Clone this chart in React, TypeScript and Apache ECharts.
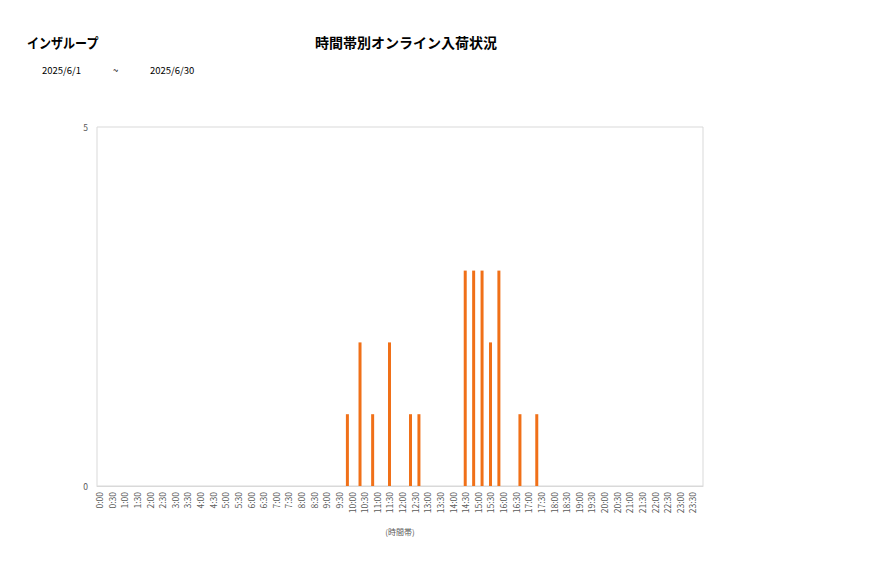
import { useEffect, useRef } from "react";
import * as echarts from "echarts";

// 10分刻みの時間帯 (0:00 〜 23:50)
const hours = Array.from({ length: 24 }, (_, h) => h);
const minutes = ["00", "10", "20", "30", "40", "50"];
const categories = hours.flatMap((h) => minutes.map((m) => `${h}:${m}`));

// 入荷のあった時間帯と件数
const slotTimes = [
  "9:50", "10:20", "10:50", "11:30", "12:20", "12:40",
  "14:30", "14:50", "15:10", "15:30", "15:50", "16:40", "17:20",
];
const slotCounts = [1, 2, 1, 2, 1, 1, 3, 3, 3, 2, 3, 1, 1];

const yTicks = [0, 5];

const companyName = "インザループ";
const chartTitle = "時間帯別オンライン入荷状況";
const dateFrom = "2025/6/1";
const dateTo = "2025/6/30";
const xAxisName = "(時間帯)";

const FONT = "'Noto Sans CJK JP', 'Noto Sans', sans-serif";

export default function App() {
  const chartRef = useRef<HTMLDivElement>(null);

  useEffect(() => {
    if (!chartRef.current) return;
    const chart = echarts.init(chartRef.current, undefined, { renderer: "svg" });

    const seriesData = categories.map((c) => {
      const i = slotTimes.indexOf(c);
      return i >= 0 ? slotCounts[i] : 0;
    });

    const option: echarts.EChartsOption = {
      animation: false,
      textStyle: { fontFamily: FONT },
      grid: { left: 97, right: 174, top: 127, bottom: 92, show: true, borderColor: "#d9d9d9", borderWidth: 1 },
      graphic: [
        {
          type: "text",
          x: 27,
          y: 35,
          scaleX: 0.86,
          style: { text: companyName, font: `bold 14px ${FONT}`, fill: "#000" },
        },
        {
          type: "text",
          x: 315,
          y: 35,
          style: { text: chartTitle, font: `bold 14px ${FONT}`, fill: "#000" },
        },
        {
          type: "text",
          x: 42,
          y: 65,
          style: { text: dateFrom, font: `9.5px ${FONT}`, fill: "#000" },
        },
        {
          type: "text",
          x: 113,
          y: 65,
          style: { text: "~", font: `9.5px ${FONT}`, fill: "#000" },
        },
        {
          type: "text",
          x: 150,
          y: 65,
          style: { text: dateTo, font: `9.5px ${FONT}`, fill: "#000" },
        },
      ],
      xAxis: {
        type: "category",
        data: categories,
        name: xAxisName,
        nameLocation: "middle",
        nameGap: 41,
        nameTextStyle: { fontSize: 8, color: "#595959" },
        axisLine: { lineStyle: { color: "#d9d9d9" } },
        axisTick: { show: false },
        axisLabel: {
          interval: 2,
          rotate: 90,
          fontSize: 8.5,
          color: "#595959",
          margin: 6,
        },
      },
      yAxis: {
        type: "value",
        min: yTicks[0],
        max: yTicks[1],
        interval: 5,
        axisLine: { show: false },
        axisTick: { show: false },
        splitLine: { show: false },
        axisLabel: { fontSize: 8.5, color: "#595959", margin: 9 },
      },
      series: [
        {
          type: "bar",
          data: seriesData,
          barWidth: 3,
          itemStyle: { color: "#f07018" },
        },
      ],
    };

    chart.setOption(option);
    return () => chart.dispose();
  }, []);

  return (
    <div
      ref={chartRef}
      style={{ position: "absolute", left: 0, top: 0, width: 877, height: 578, background: "#fff" }}
    />
  );
}
